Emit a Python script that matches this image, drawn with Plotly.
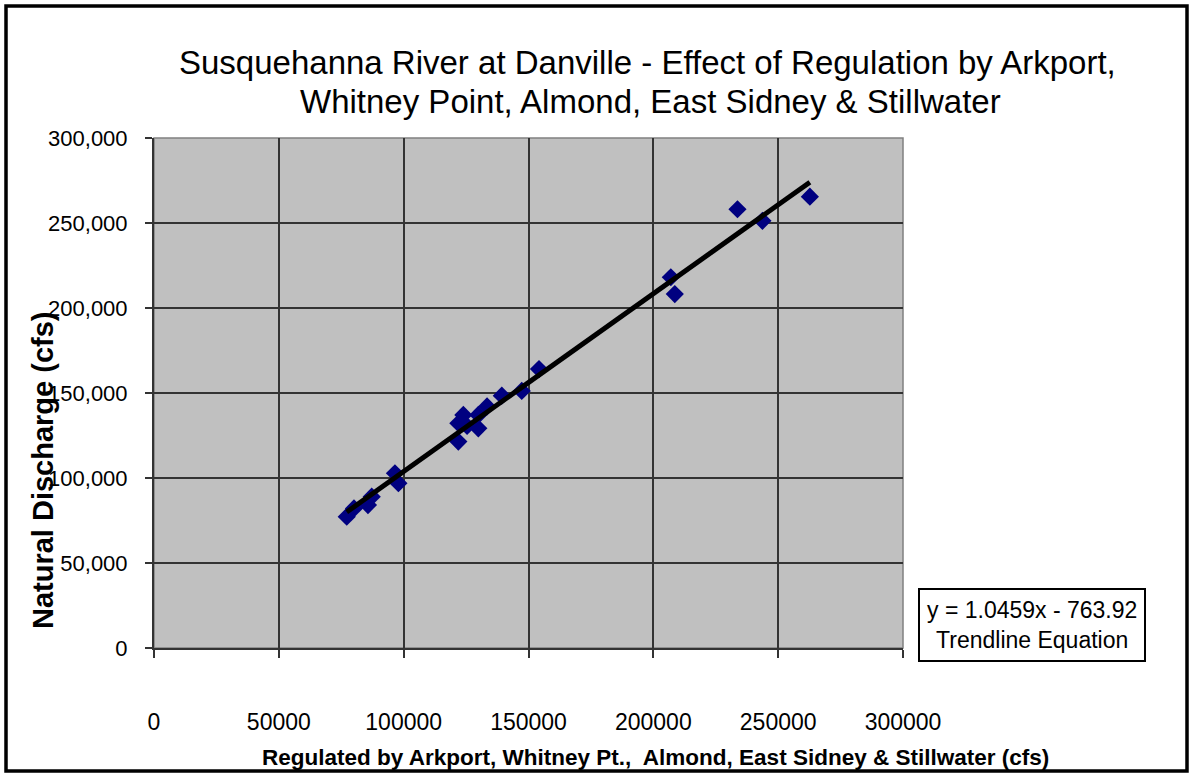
import plotly.graph_objects as go

# ---- data ----
regulated_cfs = [77200, 80100, 85700, 87200, 96500, 97900, 121900, 121900, 123900,
                 125400, 129900, 129900, 133400, 139300, 147300, 154200, 207000,
                 208600, 233700, 243700, 262700]
natural_cfs = [77200, 82100, 84100, 89000, 102800, 96900, 121400, 132200, 137100,
               130600, 137100, 129200, 142100, 148400, 151200, 164100, 218100,
               208200, 258100, 251300, 265500]
trend_slope = 1.0459
trend_intercept = -763.92
x_ticks = [0, 50000, 100000, 150000, 200000, 250000, 300000]
y_ticks = [0, 50000, 100000, 150000, 200000, 250000, 300000]
y_tick_labels = ["0", "50,000", "100,000", "150,000", "200,000", "250,000", "300,000"]

title_line1 = "Susquehanna River at Danville - Effect of Regulation by Arkport,"
title_line2 = "Whitney Point, Almond, East Sidney & Stillwater"
x_title = "Regulated by Arkport, Whitney Pt.,  Almond, East Sidney & Stillwater (cfs)"
y_title = "Natural Discharge (cfs)"
eq_text = "y = 1.0459x - 763.92<br>Trendline Equation"

# ---- layout geometry (window pixels) ----
W, H = 1193, 777
L, R, T, B = 154, 903, 138, 648
pw, ph = R - L, B - T

def px(xp):
    return (xp - L) / pw

def py(yp):
    return (B - yp) / ph

FONT = "Liberation Sans, Arial, sans-serif"

fig = go.Figure()

x_min, x_max = min(regulated_cfs), max(regulated_cfs)
fig.add_trace(go.Scatter(
    x=regulated_cfs, y=natural_cfs, mode="markers",
    marker=dict(symbol="diamond", size=14, color="#000080", line=dict(width=0)),
    showlegend=False, hoverinfo="x+y"))
fig.add_trace(go.Scatter(
    x=[x_min, x_max],
    y=[trend_slope * x_min + trend_intercept, trend_slope * x_max + trend_intercept],
    mode="lines", line=dict(color="black", width=5), showlegend=False))

fig.update_layout(
    width=W, height=H,
    margin=dict(l=L, r=W - R, t=T, b=H - B, pad=0),
    paper_bgcolor="white", plot_bgcolor="#C0C0C0",
    font=dict(family=FONT, color="black"),
    xaxis=dict(range=[0, 300000], tickvals=x_ticks, ticktext=[str(v) for v in x_ticks],
               showgrid=True, gridcolor="#333333", gridwidth=1.5,
               zeroline=False, showline=True, linecolor="#333333", linewidth=2,
               ticks="outside", ticklen=8, tickcolor="#333333", tickwidth=1.5,
               tickfont=dict(size=23, family=FONT), ticklabelstandoff=44),
    yaxis=dict(range=[0, 300000], tickvals=y_ticks, ticktext=y_tick_labels,
               showgrid=True, gridcolor="#333333", gridwidth=1.5,
               zeroline=False, showline=True, linecolor="#333333", linewidth=2,
               ticks="outside", ticklen=7, tickcolor="#333333", tickwidth=1.5,
               tickfont=dict(size=22, family=FONT), ticklabelstandoff=13),
    shapes=[
        dict(type="rect", xref="paper", yref="paper", x0=0, x1=1, y0=0, y1=1,
             line=dict(color="#808080", width=1.5), layer="below"),
        dict(type="rect", xref="paper", yref="paper",
             x0=px(6), x1=px(1187), y0=py(771), y1=py(6),
             line=dict(color="black", width=3.5)),
    ],
    annotations=[
        dict(text=title_line1, xref="paper", yref="paper", x=px(647), y=py(62),
             xanchor="center", yanchor="middle", showarrow=False,
             font=dict(size=33, family=FONT, color="black")),
        dict(text=title_line2, xref="paper", yref="paper", x=px(650), y=py(101),
             xanchor="center", yanchor="middle", showarrow=False,
             font=dict(size=33, family=FONT, color="black")),
        dict(text="<b>" + x_title + "</b>", xref="paper", yref="paper",
             x=px(655), y=py(757), xanchor="center", yanchor="middle", showarrow=False,
             font=dict(size=22.5, family=FONT, color="black")),
        dict(text="<b>" + y_title + "</b>", xref="paper", yref="paper",
             x=px(43), y=py(470), xanchor="center", yanchor="middle", showarrow=False,
             textangle=-90, font=dict(size=29, family=FONT, color="black")),
        dict(text=eq_text, xref="paper", yref="paper", x=px(1032), y=py(625),
             xanchor="center", yanchor="middle", showarrow=False,
             font=dict(size=23, family=FONT, color="black"),
             bordercolor="black", borderwidth=2, borderpad=7, bgcolor="white"),
    ],
)

fig.write_html(
    "out.html",
    config={"displayModeBar": False},
    post_script="document.body.style.margin='0';document.body.style.overflow='hidden';",
)
